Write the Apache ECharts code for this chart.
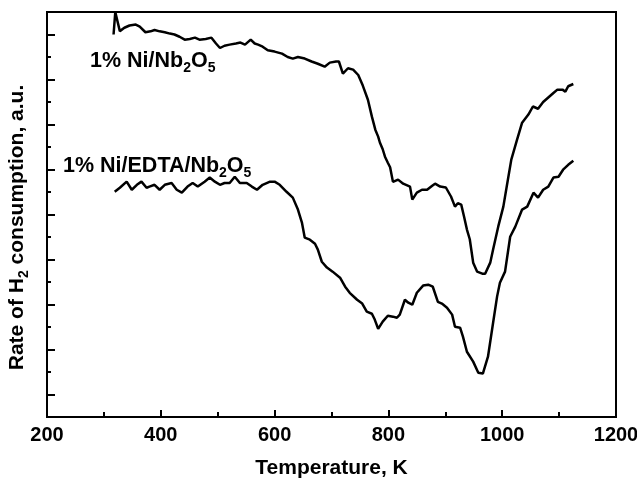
<!DOCTYPE html>
<html>
<head>
<meta charset="utf-8">
<script src="https://cdn.jsdelivr.net/npm/echarts@6/dist/echarts.min.js"></script>
<style>
  html, body { margin: 0; padding: 0; background: #fff; }
  #chart { width: 637px; height: 479px; }
</style>
</head>
<body>
<div id="chart"></div>
<script>
// 1% Ni/Nb2O5 (upper trace)
const niTemps = [317, 320, 328, 336, 345, 356, 363, 373, 382, 389, 398, 407, 416, 424, 433, 442, 451, 460, 468, 479,
  489, 497, 504, 512, 521, 532, 540, 548, 558, 565, 571, 579, 588, 600, 613, 623, 632, 641, 653, 665,
  676, 688, 697, 708, 713, 720, 729, 738, 747, 755, 764, 771, 777, 782, 785, 790, 794, 799, 803, 808,
  817, 826, 838, 842, 850, 859, 868, 877, 882, 891, 901, 910, 917, 922, 928, 933, 938, 943, 949, 956,
  965, 970, 979, 984, 993, 1002, 1009, 1016, 1026, 1035, 1046, 1054, 1063, 1072, 1081, 1090, 1097, 1106, 1111, 1116, 1125];
const niValues = [17.0, 18.0, 17.15, 17.3, 17.4, 17.44, 17.35, 17.1, 17.14, 17.2, 17.14, 17.1, 17.04, 17.0, 16.9, 16.77, 16.8, 16.86, 16.77, 16.8,
  16.86, 16.6, 16.4, 16.5, 16.55, 16.6, 16.64, 16.55, 16.77, 16.6, 16.55, 16.46, 16.3, 16.24, 16.15, 16.0, 15.93, 16.0, 15.93, 15.8,
  15.7, 15.57, 15.75, 15.8, 15.8, 15.26, 15.5, 15.44, 15.2, 14.73, 14.1, 13.35, 12.77, 12.46, 12.2, 11.9, 11.57, 11.3, 11.1, 10.45,
  10.55, 10.37, 10.24, 9.66, 9.97, 10.1, 10.1, 10.28, 10.37, 10.24, 10.2, 9.8, 9.35, 9.5, 9.44, 8.9, 8.33, 7.9, 6.86, 6.46,
  6.37, 6.37, 6.86, 7.44, 8.46, 9.35, 10.4, 11.44, 12.32, 13.08, 13.44, 13.8, 13.7, 14.0, 14.2, 14.4, 14.55, 14.55, 14.46, 14.7, 14.8];

// 1% Ni/EDTA/Nb2O5 (lower trace)
const edtaTemps = [319, 328, 340, 349, 358, 366, 375, 380, 389, 398, 407, 419, 428, 437, 447, 456, 465, 477, 486, 495,
  504, 512, 521, 530, 539, 551, 560, 569, 579, 592, 600, 609, 621, 632, 641, 648, 653, 662, 671, 676,
  683, 692, 702, 715, 724, 732, 745, 754, 762, 771, 776, 782, 790, 799, 808, 815, 820, 829, 835, 842,
  850, 861, 870, 878, 887, 894, 903, 912, 917, 926, 931, 938, 949, 958, 966, 975, 984, 991, 996, 1005,
  1014, 1023, 1035, 1044, 1055, 1063, 1072, 1081, 1090, 1099, 1107, 1116, 1125];
const edtaValues = [10.01, 10.19, 10.46, 10.1, 10.32, 10.46, 10.19, 10.24, 10.32, 10.1, 10.32, 10.4, 10.1, 9.97, 10.24, 10.4, 10.24, 10.46, 10.64, 10.46,
  10.32, 10.4, 10.4, 10.68, 10.4, 10.4, 10.24, 10.1, 10.32, 10.46, 10.46, 10.32, 10.01, 9.75, 9.22, 8.64, 7.97, 7.88, 7.7, 7.44,
  6.9, 6.64, 6.46, 6.19, 5.79, 5.52, 5.21, 5.04, 4.68, 4.59, 4.33, 3.92, 4.24, 4.5, 4.46, 4.41, 4.55, 5.21, 5.08, 4.99,
  5.52, 5.84, 5.88, 5.79, 5.12, 5.04, 4.86, 4.55, 4.01, 3.97, 3.57, 2.9, 2.46, 1.97, 1.93, 2.68, 4.19, 5.35, 5.97, 6.46,
  8.01, 8.46, 9.22, 9.35, 9.97, 9.75, 10.1, 10.24, 10.64, 10.68, 10.99, 11.21, 11.39];

const xTicks = [200, 400, 600, 800, 1000, 1200];

const FONT = "'Liberation Sans', Arial, sans-serif";
const pair = (xs, ys) => xs.map((x, i) => [x, ys[i]]);

const richLabel = {
  a: { fontFamily: FONT, fontSize: 21.5, fontWeight: 'bold', color: '#000', lineHeight: 28 },
  s: { fontFamily: FONT, fontSize: 14, fontWeight: 'bold', color: '#000', lineHeight: 28, verticalAlign: 'bottom' }
};

const chart = echarts.init(document.getElementById('chart'));
chart.setOption({
  animation: false,
  backgroundColor: '#fff',
  grid: {
    left: 47, right: 21, top: 12, bottom: 62,
    outerBoundsMode: 'none',
    show: true, borderColor: '#000', borderWidth: 2
  },
  title: [
    {
      text: '{a|1% Ni/Nb}{s|2}{a|O}{s|5}',
      left: 90, top: 47, padding: 0,
      textStyle: { rich: richLabel }
    },
    {
      text: '{a|1% Ni/EDTA/Nb}{s|2}{a|O}{s|5}',
      left: 63, top: 152, padding: 0,
      textStyle: { rich: richLabel }
    }
  ],
  xAxis: {
    type: 'value',
    min: 200,
    max: 1200,
    interval: 200,
    name: 'Temperature, K',
    nameLocation: 'middle',
    nameGap: 41,
    nameTextStyle: { fontFamily: FONT, fontSize: 21, fontWeight: 'bold', color: '#000' },
    axisLine: { lineStyle: { color: '#000', width: 2 } },
    axisTick: { inside: true, length: 7, lineStyle: { color: '#000', width: 2 } },
    minorTick: { show: true, splitNumber: 2, length: 5, lineStyle: { color: '#000', width: 2 } },
    axisLabel: {
      margin: 8,
      fontFamily: FONT, fontSize: 20, fontWeight: 'bold', color: '#000',
      formatter: v => (xTicks.includes(v) ? String(v) : '')
    },
    splitLine: { show: false }
  },
  yAxis: {
    type: 'value',
    min: 0,
    max: 18,
    interval: 2,
    name: '{a|Rate of H}{s|2}{a| consumption, a.u.}',
    nameLocation: 'middle',
    nameGap: 16,
    nameTextStyle: {
      padding: [0, 26, 0, 0],
      rich: {
        a: { fontFamily: FONT, fontSize: 21, fontWeight: 'bold', color: '#000', lineHeight: 28 },
        s: { fontFamily: FONT, fontSize: 14, fontWeight: 'bold', color: '#000', lineHeight: 28, verticalAlign: 'bottom' }
      }
    },
    axisLine: { show: true, lineStyle: { color: '#000', width: 2 } },
    axisTick: { inside: true, length: 4, lineStyle: { color: '#000', width: 2 } },
    minorTick: { show: true, splitNumber: 2, length: 8, lineStyle: { color: '#000', width: 2 } },
    axisLabel: { show: false },
    splitLine: { show: false }
  },
  series: [
    {
      name: '1% Ni/Nb2O5',
      type: 'line',
      data: pair(niTemps, niValues),
      showSymbol: false,
      lineStyle: { color: '#000', width: 2.5 },
      z: 3
    },
    {
      name: '1% Ni/EDTA/Nb2O5',
      type: 'line',
      data: pair(edtaTemps, edtaValues),
      showSymbol: false,
      lineStyle: { color: '#000', width: 2.5 },
      z: 3
    }
  ]
});
</script>
</body>
</html>
